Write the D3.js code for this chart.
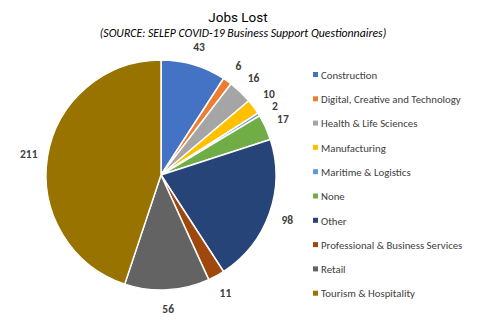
<!DOCTYPE html>
<html>
<head>
<meta charset="utf-8">
<script src="https://cdn.jsdelivr.net/npm/d3@7"></script>
<style>
  body { margin: 0; background: #fff; }
  svg { font-family: Carlito, Lato, "Liberation Sans", sans-serif; }
</style>
</head>
<body>
<div id="chart"></div>
<script>
const width = 485;
const height = 332;

const categories = ["Construction", "Digital, Creative and Technology", "Health & Life Sciences",
  "Manufacturing", "Maritime & Logistics", "None", "Other",
  "Professional & Business Services", "Retail", "Tourism & Hospitality"];
const jobsLost = [43, 6, 16, 10, 2, 17, 98, 11, 56, 211];
const colors = ["#4472C4", "#ED7D31", "#A5A5A5", "#FFC000", "#5B9BD5",
  "#70AD47", "#264478", "#9E480E", "#636363", "#997300"];

const cx = 161, cy = 175, radius = 115;

const svg = d3.select("#chart")
  .append("svg")
  .attr("width", width)
  .attr("height", height);

svg.append("text")
  .attr("x", 238).attr("y", 22)
  .attr("text-anchor", "middle")
  .attr("font-family", "Roboto, 'Liberation Sans', sans-serif")
  .attr("font-size", 13.5)
  .attr("font-weight", "normal")
  .attr("fill", "#000")
  .text("Jobs Lost");

svg.append("text")
  .attr("x", 243).attr("y", 37)
  .attr("text-anchor", "middle")
  .attr("font-size", 11.8)
  .attr("font-style", "italic")
  .attr("fill", "#000")
  .text("(SOURCE: SELEP COVID-19 Business Support Questionnaires)");

const pie = d3.pie().value(d => d).sort(null);
const arc = d3.arc().innerRadius(0).outerRadius(radius);
const labelArc = d3.arc().innerRadius(134).outerRadius(134);

const g = svg.append("g")
  .attr("transform", "translate(" + cx + "," + cy + ")");

const arcs = g.selectAll(".arc")
  .data(pie(jobsLost))
  .enter()
  .append("g")
  .attr("class", "arc");

arcs.append("path")
  .attr("d", arc)
  .attr("fill", (d, i) => colors[i])
  .attr("stroke", "#fff")
  .attr("stroke-width", 1.5);

// small nudges so the "10" and "2" labels don't collide
const nudge = { 3: -2, 4: 2 };

arcs.append("text")
  .attr("transform", (d, i) => {
    const c = labelArc.centroid(d);
    return "translate(" + c[0] + "," + (c[1] + (nudge[i] || 0)) + ")";
  })
  .attr("text-anchor", "middle")
  .attr("dy", "0.35em")
  .attr("font-size", 11.5)
  .attr("font-weight", "bold")
  .attr("fill", "#404040")
  .text(d => d.data);

const legend = svg.append("g")
  .attr("transform", "translate(313,75)");

const items = legend.selectAll("g")
  .data(categories)
  .enter()
  .append("g")
  .attr("transform", (d, i) => "translate(0," + (i * 24.3) + ")");

items.append("rect")
  .attr("x", 0).attr("y", -3)
  .attr("width", 5).attr("height", 5)
  .attr("fill", (d, i) => colors[i]);

items.append("text")
  .attr("x", 8)
  .attr("dy", "0.35em")
  .attr("font-size", 10.8)
  .attr("fill", "#404040")
  .text(d => d);
</script>
</body>
</html>
